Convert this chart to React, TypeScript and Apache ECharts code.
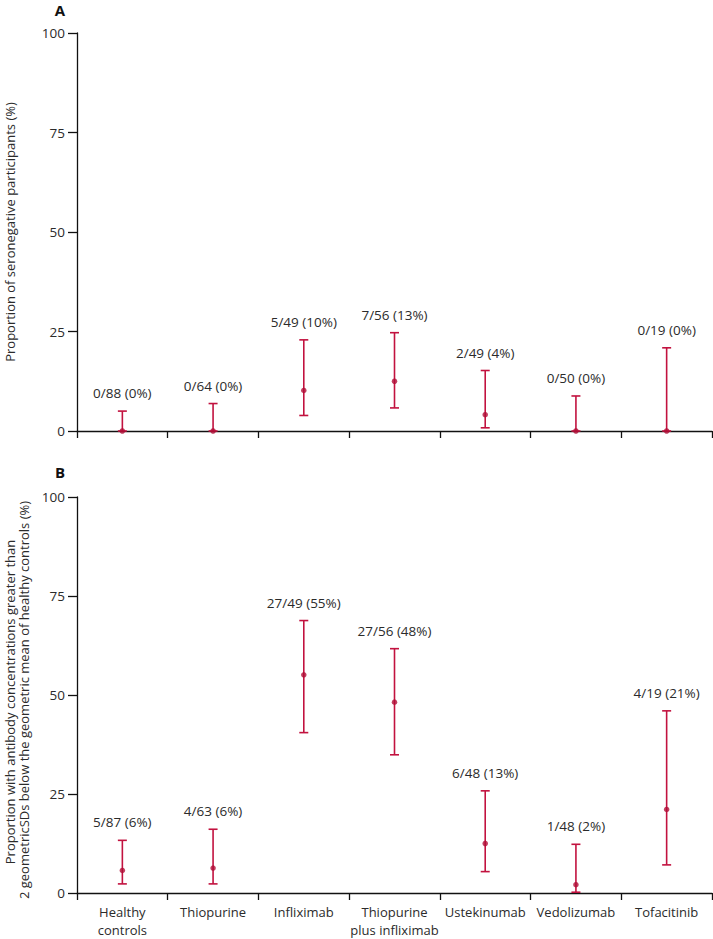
import React, { useEffect, useRef } from "react";
import * as echarts from "echarts";

const categories = [
  "Healthy\ncontrols",
  "Thiopurine",
  "Infliximab",
  "Thiopurine\nplus infliximab",
  "Ustekinumab",
  "Vedolizumab",
  "Tofacitinib",
];

const yTicks = [0, 25, 50, 75, 100];

// Panel A: seronegative participants (%)
const aEstimate = [0, 0, 10.2, 12.5, 4.1, 0, 0];
const aLower = [0, 0, 3.9, 5.8, 0.8, 0, 0];
const aUpper = [5.0, 6.9, 22.9, 24.7, 15.2, 8.8, 20.9];
const aLabels = ["0/88 (0%)", "0/64 (0%)", "5/49 (10%)", "7/56 (13%)", "2/49 (4%)", "0/50 (0%)", "0/19 (0%)"];

// Panel B: antibody concentrations below 2 geometric SDs (%)
const bEstimate = [5.7, 6.3, 55.1, 48.2, 12.5, 2.1, 21.1];
const bLower = [2.3, 2.3, 40.5, 34.9, 5.4, 0.2, 7.1];
const bUpper = [13.3, 16.1, 68.8, 61.7, 25.8, 12.3, 46.0];
const bLabels = ["5/87 (6%)", "4/63 (6%)", "27/49 (55%)", "27/56 (48%)", "6/48 (13%)", "1/48 (2%)", "4/19 (21%)"];

const titleA = "Proportion of seronegative participants (%)";
const titleB1 = "Proportion with antibody concentrations greater than";
const titleB2 = "2 geometricSDs below the geometric mean of healthy controls (%)";

const FONT = "'Open Sans'";
const FS = 13;
const LFS = 13.5;
const RED = "#c2123f";
const DOT = "#b00d36";
const TXT = "#2b2b2b";

export default function App() {
  const ref = useRef<HTMLDivElement>(null);
  useEffect(() => {
    if (!ref.current) return;
    const chart = echarts.init(ref.current, null, { renderer: "svg" });

    const errData = (lo: number[], hi: number[]) => lo.map((l, i) => [i, l, hi[i]]);
    const mkErr = (idx: number, lo: number[], hi: number[], labels: string[]) => ({
      type: "custom",
      xAxisIndex: idx,
      yAxisIndex: idx,
      clip: false,
      data: errData(lo, hi),
      renderItem: (params: any, api: any) => {
        const x = api.value(0);
        const low = api.coord([x, api.value(1)]);
        const high = api.coord([x, api.value(2)]);
        const cap = 4.5;
        const style = { stroke: RED, lineWidth: 1.6 };
        return {
          type: "group",
          children: [
            { type: "line", shape: { x1: high[0], y1: high[1], x2: low[0], y2: low[1] }, style },
            { type: "line", shape: { x1: high[0] - cap, y1: high[1], x2: high[0] + cap, y2: high[1] }, style },
            { type: "line", shape: { x1: low[0] - cap, y1: low[1], x2: low[0] + cap, y2: low[1] }, style },
            {
              type: "text",
              x: high[0],
              y: high[1] - 18,
              style: {
                text: labels[params.dataIndex],
                fill: TXT,
                font: `${LFS}px ${FONT}`,
                textAlign: "center",
                textVerticalAlign: "middle",
              },
            },
          ],
        };
      },
    });
    const mkDot = (idx: number, est: number[]) => ({
      type: "scatter",
      xAxisIndex: idx,
      yAxisIndex: idx,
      clip: false,
      symbol: "circle",
      symbolSize: 5.5,
      itemStyle: { color: DOT },
      data: est.map((v, i) => [i, v]),
      z: 5,
    });

    const axisLine = { show: true, lineStyle: { color: "#111", width: 1.3 } };
    const mkX = (idx: number, showLabels: boolean) => ({
      type: "category",
      gridIndex: idx,
      data: categories,
      boundaryGap: true,
      axisLine,
      axisTick: { show: true, length: 7, lineStyle: { color: "#111", width: 1.3 } },
      axisLabel: {
        show: showLabels,
        interval: 0,
        margin: 10,
        color: TXT,
        fontFamily: FONT,
        fontSize: FS,
        lineHeight: 18,
      },
      splitLine: { show: false },
    });
    const mkY = (idx: number) => ({
      type: "value",
      gridIndex: idx,
      min: yTicks[0],
      max: yTicks[yTicks.length - 1],
      interval: 25,
      axisLine,
      axisTick: { show: true, length: 9, lineStyle: { color: "#111", width: 1.3 } },
      axisLabel: { margin: 12, color: TXT, fontFamily: FONT, fontSize: LFS },
      splitLine: { show: false },
    });

    chart.setOption({
      animation: false,
      backgroundColor: "#fff",
      grid: [
        { left: 77, right: 1, top: 33, height: 398 },
        { left: 77, right: 1, top: 497, height: 398 },
      ],
      xAxis: [mkX(0, false), mkX(1, true)],
      yAxis: [mkY(0), mkY(1)],
      series: [
        mkErr(0, aLower, aUpper, aLabels),
        mkDot(0, aEstimate),
        mkErr(1, bLower, bUpper, bLabels),
        mkDot(1, bEstimate),
      ],
      graphic: [
        { type: "text", x: 60, y: 10, style: { text: "A", font: `bold 15px ${FONT}`, fill: "#111", textAlign: "center", textVerticalAlign: "middle" } },
        { type: "text", x: 60, y: 472, style: { text: "B", font: `bold 15px ${FONT}`, fill: "#111", textAlign: "center", textVerticalAlign: "middle" } },
        { type: "text", x: 10, y: 232, rotation: Math.PI / 2, style: { text: titleA, font: `${FS}px ${FONT}`, fill: TXT, textAlign: "center", textVerticalAlign: "middle" } },
        { type: "text", x: 10, y: 702, rotation: Math.PI / 2, style: { text: titleB1, font: `${FS}px ${FONT}`, fill: TXT, textAlign: "center", textVerticalAlign: "middle" } },
        { type: "text", x: 24, y: 700, rotation: Math.PI / 2, style: { text: titleB2, font: `${FS}px ${FONT}`, fill: TXT, textAlign: "center", textVerticalAlign: "middle" } },
      ],
    });
    return () => chart.dispose();
  }, []);
  return (
    <div
      ref={ref}
      style={{ position: "absolute", left: 0, top: 0, width: 713, height: 939 }}
    />
  );
}
